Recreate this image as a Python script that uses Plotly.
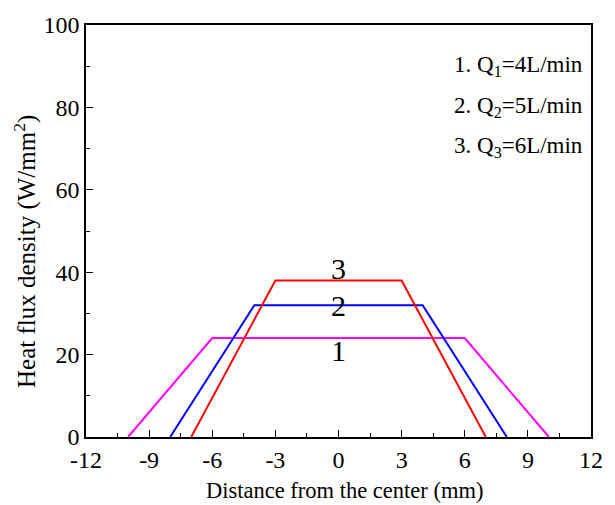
import plotly.graph_objects as go

x1 = [-10, -6, 6, 10]
y1 = [0, 24, 24, 0]
x2 = [-8, -4, 4, 8]
y2 = [0, 32, 32, 0]
x3 = [-7, -3, 3, 7]
y3 = [0, 38, 38, 0]
colors = ["#ff00ff", "#0000ff", "#ff0000"]
curve_labels = ["1", "2", "3"]
curve_label_y = [21, 32, 41]
legend_texts = ["1. Q<sub>1</sub>=4L/min", "2. Q<sub>2</sub>=5L/min", "3. Q<sub>3</sub>=6L/min"]
legend_y = [90, 80, 70.5]
xticks = [-12, -9, -6, -3, 0, 3, 6, 9, 12]
yticks = [0, 20, 40, 60, 80, 100]

font = "Liberation Serif, Times New Roman, serif"
fig = go.Figure()
for xs, ys, c in zip([x1, x2, x3], [y1, y2, y3], colors):
    fig.add_trace(go.Scatter(x=xs, y=ys, mode="lines", line=dict(color=c, width=2), showlegend=False))

for lab, yy in zip(curve_labels, curve_label_y):
    fig.add_annotation(x=0, y=yy, text=lab, showarrow=False, font=dict(family=font, size=30, color="black"),
                       xanchor="center", yanchor="middle")
for t, yy in zip(legend_texts, legend_y):
    fig.add_annotation(x=11.7, y=yy, text=t, showarrow=False, font=dict(family=font, size=23, color="black"),
                       xanchor="right", yanchor="middle")

# axis titles as annotations (positioned like the reference)
fig.add_annotation(xref="paper", yref="paper", x=-0.12, y=0.45, text="Heat flux density (W/mm<sup>2</sup>)",
                   textangle=-90, showarrow=False, xanchor="center", yanchor="middle",
                   font=dict(family=font, size=25, color="black"))
fig.add_annotation(xref="paper", yref="paper", x=0.512, y=-0.13, text="Distance from the center (mm)",
                   showarrow=False, xanchor="center", yanchor="middle",
                   font=dict(family=font, size=22.5, color="black"))

axis_common = dict(showgrid=False, zeroline=False, showline=True, linecolor="black", linewidth=1.5,
                   mirror=True, ticks="inside", ticklen=7, tickwidth=1.2, tickcolor="black",
                   tickfont=dict(family=font, size=24, color="black"))
fig.update_xaxes(range=[-12, 12], tickvals=xticks, ticktext=[str(v) for v in xticks],
                 minor=dict(dtick=1.5, tick0=-12, ticks="inside", ticklen=4, tickcolor="black"),
                 **axis_common)
fig.update_yaxes(range=[0, 100], tickvals=yticks, ticktext=[str(v) for v in yticks],
                 minor=dict(dtick=10, tick0=0, ticks="inside", ticklen=4, tickcolor="black"),
                 **axis_common)
fig.update_layout(width=615, height=505, margin=dict(l=86, r=13, t=20, b=68),
                  plot_bgcolor="white", paper_bgcolor="white")
fig.write_html("out.html")
